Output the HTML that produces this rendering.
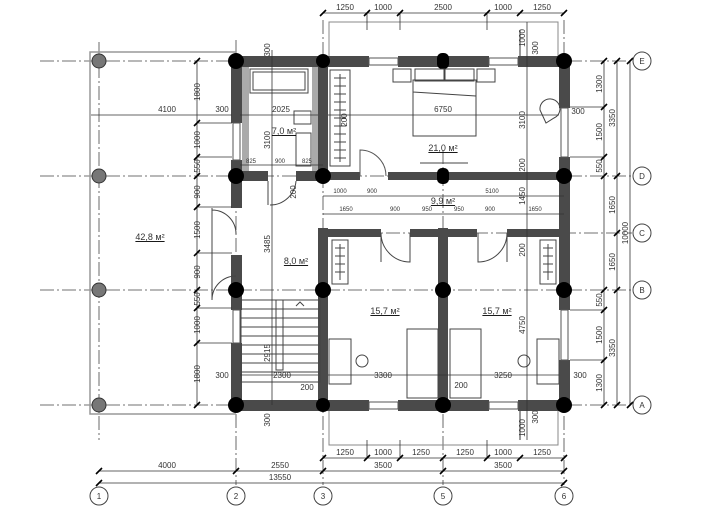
<!DOCTYPE html>
<html><head><meta charset="utf-8"><style>html,body{margin:0;padding:0;background:#fff}svg{display:block}text{font-family:"Liberation Sans",sans-serif;fill:#333}</style></head>
<body>
<svg width="720" height="520" viewBox="0 0 720 520" xmlns="http://www.w3.org/2000/svg">
<g stroke="#555" stroke-width="1" fill="none">
<g stroke="#444" stroke-dasharray="14,3,2,3" stroke-width="0.8">
<line x1="40" y1="61" x2="632" y2="61"/><line x1="40" y1="176" x2="632" y2="176"/>
<line x1="320" y1="233" x2="632" y2="233"/><line x1="40" y1="290" x2="632" y2="290"/>
<line x1="40" y1="405" x2="632" y2="405"/>
<line x1="99" y1="42" x2="99" y2="440"/><line x1="236" y1="40" x2="236" y2="485"/>
<line x1="323" y1="20" x2="323" y2="485"/><line x1="443" y1="150" x2="443" y2="485"/>
<line x1="564" y1="20" x2="564" y2="485"/>
</g>
<path d="M236 52 H90 V414 H236" stroke="#999" stroke-width="1.5"/>
<path d="M329 60 V22 H558 V60" stroke="#888"/>
<path d="M329 406 V445 H558 V406" stroke="#888"/>
<path d="M520 30 V60 M520 405 V440" stroke="#333"/>
</g>
<g fill="#4a4a4a">
<rect x="231" y="56" width="138" height="11"/><rect x="398" y="56" width="91" height="11"/><rect x="518" y="56" width="51" height="11"/>
<rect x="231" y="400" width="138" height="11"/><rect x="398" y="400" width="91" height="11"/><rect x="518" y="400" width="51" height="11"/>
<rect x="231" y="56" width="11" height="67"/><rect x="231" y="160" width="11" height="48"/><rect x="231" y="255" width="11" height="55"/><rect x="231" y="343" width="11" height="67"/>
<rect x="559" y="56" width="11" height="52"/><rect x="559" y="157" width="11" height="153"/><rect x="559" y="360" width="11" height="50"/>
<rect x="318" y="56" width="10" height="125"/><rect x="318" y="228" width="10" height="180"/>
<rect x="438" y="228" width="10" height="180"/>
<rect x="231" y="171" width="37" height="10"/><rect x="296" y="171" width="30" height="10"/>
<rect x="323" y="172" width="37" height="8"/><rect x="388" y="172" width="176" height="8"/>
<rect x="321" y="229" width="60" height="8"/><rect x="410" y="229" width="67" height="8"/><rect x="507" y="229" width="59" height="8"/>
</g>
<g fill="#aaa"><rect x="242" y="67" width="7" height="104"/><rect x="312" y="67" width="6" height="104"/></g>
<g stroke="#555" fill="#fff" stroke-width="1">
<rect x="369" y="58" width="29" height="7"/><rect x="489" y="58" width="29" height="7"/>
<rect x="369" y="402" width="29" height="7"/><rect x="489" y="402" width="29" height="7"/>
<rect x="233" y="123" width="7" height="37"/><rect x="233" y="310" width="7" height="33"/>
<rect x="561" y="108" width="7" height="49"/><rect x="561" y="310" width="7" height="50"/>
</g>
<g fill="#000">
<circle cx="236" cy="61" r="8"/><circle cx="323" cy="61" r="7"/><rect x="437" y="53" width="12" height="16" rx="5"/><circle cx="564" cy="61" r="8"/>
<circle cx="236" cy="176" r="8"/><circle cx="323" cy="176" r="8"/><rect x="437" y="168" width="12" height="16" rx="5"/><circle cx="564" cy="176" r="8"/>
<circle cx="236" cy="290" r="8"/><circle cx="323" cy="290" r="8"/><circle cx="443" cy="290" r="8"/><circle cx="564" cy="290" r="8"/>
<circle cx="236" cy="405" r="8"/><circle cx="323" cy="405" r="7"/><circle cx="443" cy="405" r="8"/><circle cx="564" cy="405" r="8"/>
</g>
<g fill="#777" stroke="#333"><circle cx="99" cy="61" r="7"/><circle cx="99" cy="176" r="7"/><circle cx="99" cy="290" r="7"/><circle cx="99" cy="405" r="7"/></g>
<g stroke="#444" fill="none" stroke-width="1">
<rect x="250" y="69" width="58" height="24"/><rect x="253" y="72" width="52" height="18"/>
<rect x="294" y="111" width="17" height="13"/><rect x="296" y="133" width="15" height="33"/>
<rect x="330" y="70" width="20" height="96"/><line x1="340" y1="74" x2="340" y2="162"/>
<path d="M334 78h12M334 86h12M334 94h12M334 102h12M334 110h12M334 118h12M334 126h12M334 134h12M334 142h12M334 150h12M334 158h12"/>
<rect x="413" y="80" width="63" height="56"/><path d="M413 92 L476 96 M413 80 L413 92"/>
<rect x="393" y="69" width="18" height="13"/><rect x="415" y="69" width="29" height="12"/><rect x="445" y="69" width="29" height="12"/><rect x="477" y="69" width="18" height="13"/>
<path d="M540 110 a10 10 0 1 1 14 8 l-8 5 z"/>
<line x1="420" y1="163" x2="468" y2="163"/>
<rect x="332" y="240" width="16" height="44"/><line x1="340" y1="244" x2="340" y2="280"/>
<path d="M335 248h10M335 256h10M335 264h10M335 272h10"/>
<rect x="540" y="240" width="16" height="44"/><line x1="548" y1="244" x2="548" y2="280"/>
<path d="M543 248h10M543 256h10M543 264h10M543 272h10"/>
<rect x="407" y="329" width="31" height="69"/><rect x="450" y="329" width="31" height="69"/>
<rect x="329" y="339" width="22" height="45"/><rect x="537" y="339" width="22" height="45"/>
<circle cx="362" cy="361" r="6"/><circle cx="524" cy="361" r="6"/>
<rect x="241" y="300" width="79" height="82"/>
<path d="M241 309H320M241 318H320M241 327H320M241 336H320M241 345H320M241 354H320M241 363H320M241 372H320"/>
<rect x="276" y="300" width="7" height="70"/><path d="M296 306 l4 -4 l4 4"/>
<path d="M360 176 V150 A26 26 0 0 1 386 176" stroke="#555"/>
<path d="M268 181 V205 M296 181 A26 26 0 0 1 270 205"/>
<path d="M381 233 V262 M381 233 A29 29 0 0 0 410 262 V233"/>
<path d="M507 233 V262 M507 233 A29 29 0 0 1 478 262 V233"/>
<path d="M212 210 A24 24 0 0 1 236 234 M212 300 A24 24 0 0 1 236 276 M212 208 V300"/>
</g>
<g stroke="#333" stroke-width="0.8">
<line x1="323" y1="13" x2="564" y2="13"/><line x1="323" y1="458" x2="564" y2="458"/>
<line x1="99" y1="471" x2="564" y2="471"/><line x1="99" y1="483" x2="564" y2="483"/>
<line x1="604" y1="61" x2="604" y2="405"/><line x1="617" y1="61" x2="617" y2="405"/><line x1="630" y1="61" x2="630" y2="405"/>
<line x1="197" y1="61" x2="197" y2="405"/>
<line x1="91" y1="115" x2="232" y2="115"/><line x1="240" y1="115" x2="318" y2="115"/><line x1="328" y1="115" x2="559" y2="115"/>
<line x1="240" y1="375" x2="318" y2="375"/><line x1="328" y1="375" x2="559" y2="375"/>
<line x1="323" y1="196" x2="564" y2="196"/><line x1="323" y1="214" x2="564" y2="214"/>
<line x1="240" y1="165" x2="323" y2="165"/>
<line x1="272" y1="50" x2="272" y2="405"/><line x1="527" y1="22" x2="527" y2="440"/>
<line x1="198" y1="123" x2="232" y2="123"/><line x1="198" y1="157" x2="232" y2="157"/><line x1="198" y1="207" x2="232" y2="207"/><line x1="198" y1="253" x2="232" y2="253"/><line x1="198" y1="308" x2="232" y2="308"/><line x1="198" y1="343" x2="232" y2="343"/>
<line x1="570" y1="107" x2="604" y2="107"/><line x1="570" y1="157" x2="604" y2="157"/><line x1="570" y1="310" x2="604" y2="310"/><line x1="570" y1="360" x2="604" y2="360"/>
<line x1="367" y1="13" x2="367" y2="30"/><line x1="400" y1="13" x2="400" y2="30"/><line x1="487" y1="13" x2="487" y2="30"/>
<line x1="367" y1="440" x2="367" y2="458"/><line x1="400" y1="440" x2="400" y2="458"/><line x1="487" y1="440" x2="487" y2="458"/>
</g>
<g stroke="#000" stroke-width="1.6">
<path d="M320 16l6-6M364 16l6-6M397 16l6-6M484 16l6-6M517 16l6-6M561 16l6-6"/>
<path d="M320 461l6-6M364 461l6-6M397 461l6-6M440 461l6-6M484 461l6-6M517 461l6-6M561 461l6-6"/>
<path d="M96 474l6-6M233 474l6-6M320 474l6-6M440 474l6-6M561 474l6-6M96 486l6-6M561 486l6-6"/>
<path d="M601 64l6-6M601 110l6-6M601 160l6-6M601 179l6-6M601 293l6-6M601 313l6-6M601 363l6-6M601 408l6-6"/>
<path d="M614 64l6-6M614 179l6-6M614 236l6-6M614 293l6-6M614 408l6-6M627 64l6-6M627 408l6-6"/>
<path d="M194 64l6-6M194 126l6-6M194 160l6-6M194 179l6-6M194 210l6-6M194 256l6-6M194 293l6-6M194 311l6-6M194 346l6-6M194 408l6-6"/>
</g>
<g fill="#fff" stroke="#444"><circle cx="99" cy="496" r="9"/><circle cx="236" cy="496" r="9"/><circle cx="323" cy="496" r="9"/><circle cx="443" cy="496" r="9"/><circle cx="564" cy="496" r="9"/>
<circle cx="642" cy="61" r="9"/><circle cx="642" cy="176" r="9"/><circle cx="642" cy="233" r="9"/><circle cx="642" cy="290" r="9"/><circle cx="642" cy="405" r="9"/></g>
<g font-size="8" text-anchor="middle">
<text x="99" y="499">1</text><text x="236" y="499">2</text><text x="323" y="499">3</text><text x="443" y="499">5</text><text x="564" y="499">6</text>
<text x="642" y="64">E</text><text x="642" y="179">D</text><text x="642" y="236">C</text><text x="642" y="293">B</text><text x="642" y="408">A</text>
<text x="345" y="10">1250</text><text x="383" y="10">1000</text><text x="443" y="10">2500</text><text x="503" y="10">1000</text><text x="542" y="10">1250</text>
<text x="345" y="455">1250</text><text x="383" y="455">1000</text><text x="421" y="455">1250</text><text x="465" y="455">1250</text><text x="503" y="455">1000</text><text x="542" y="455">1250</text>
<text x="167" y="468">4000</text><text x="280" y="468">2550</text><text x="383" y="468">3500</text><text x="503" y="468">3500</text><text x="280" y="480">13550</text>
<text x="167" y="112">4100</text><text x="222" y="112">300</text><text x="281" y="112">2025</text><text x="443" y="112">6750</text><text x="578" y="114">300</text>
<text x="222" y="378">300</text><text x="282" y="378">2300</text><text x="307" y="390">200</text><text x="383" y="378">3300</text><text x="503" y="378">3250</text><text x="461" y="388">200</text><text x="580" y="378">300</text>
<text x="492" y="193" font-size="6">5100</text><text x="340" y="193" font-size="6">1000</text><text x="372" y="193" font-size="6">900</text>
<text x="346" y="211" font-size="6">1650</text><text x="395" y="211" font-size="6">900</text><text x="427" y="211" font-size="6">950</text><text x="459" y="211" font-size="6">950</text><text x="490" y="211" font-size="6">900</text><text x="535" y="211" font-size="6">1650</text>
<text x="251" y="163" font-size="6">825</text><text x="280" y="163" font-size="6">900</text><text x="307" y="163" font-size="6">825</text>
</g>
<g font-size="9" text-anchor="middle" text-decoration="underline">
<text x="150" y="240">42,8 м²</text><text x="284" y="134">7,0 м²</text><text x="443" y="151">21,0 м²</text><text x="443" y="204">9,9 м²</text>
<text x="296" y="264">8,0 м²</text><text x="385" y="314">15,7 м²</text><text x="497" y="314">15,7 м²</text>
</g>
<g font-size="8" text-anchor="middle">
<g transform="translate(200,92) rotate(-90)"><text>1800</text></g>
<g transform="translate(200,140) rotate(-90)"><text>1000</text></g>
<g transform="translate(200,166) rotate(-90)"><text>550</text></g>
<g transform="translate(200,192) rotate(-90)"><text>900</text></g>
<g transform="translate(200,230) rotate(-90)"><text>1500</text></g>
<g transform="translate(200,272) rotate(-90)"><text>900</text></g>
<g transform="translate(200,299) rotate(-90)"><text>550</text></g>
<g transform="translate(200,325) rotate(-90)"><text>1000</text></g>
<g transform="translate(200,374) rotate(-90)"><text>1800</text></g>
<g transform="translate(602,84) rotate(-90)"><text>1300</text></g>
<g transform="translate(602,132) rotate(-90)"><text>1500</text></g>
<g transform="translate(602,166) rotate(-90)"><text>550</text></g>
<g transform="translate(602,300) rotate(-90)"><text>550</text></g>
<g transform="translate(602,335) rotate(-90)"><text>1500</text></g>
<g transform="translate(602,383) rotate(-90)"><text>1300</text></g>
<g transform="translate(615,118) rotate(-90)"><text>3350</text></g>
<g transform="translate(615,205) rotate(-90)"><text>1650</text></g>
<g transform="translate(615,262) rotate(-90)"><text>1650</text></g>
<g transform="translate(615,348) rotate(-90)"><text>3350</text></g>
<g transform="translate(628,233) rotate(-90)"><text>10000</text></g>
<g transform="translate(270,244) rotate(-90)"><text>3485</text></g>
<g transform="translate(270,140) rotate(-90)"><text>3100</text></g>
<g transform="translate(270,50) rotate(-90)"><text>300</text></g>
<g transform="translate(270,420) rotate(-90)"><text>300</text></g>
<g transform="translate(270,353) rotate(-90)"><text>2915</text></g>
<g transform="translate(296,192) rotate(-90)"><text>200</text></g>
<g transform="translate(347,120) rotate(-90)"><text>200</text></g>
<g transform="translate(525,120) rotate(-90)"><text>3100</text></g>
<g transform="translate(525,165) rotate(-90)"><text>200</text></g>
<g transform="translate(525,196) rotate(-90)"><text>1450</text></g>
<g transform="translate(525,250) rotate(-90)"><text>200</text></g>
<g transform="translate(525,325) rotate(-90)"><text>4750</text></g>
<g transform="translate(525,38) rotate(-90)"><text>1000</text></g>
<g transform="translate(538,48) rotate(-90)"><text>300</text></g>
<g transform="translate(525,428) rotate(-90)"><text>1000</text></g>
<g transform="translate(538,417) rotate(-90)"><text>300</text></g>
</g>
</svg>
</body></html>
